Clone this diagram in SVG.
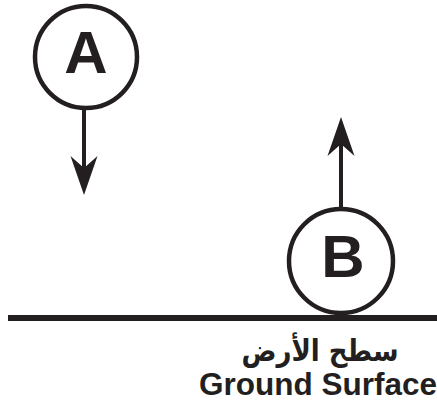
<svg xmlns="http://www.w3.org/2000/svg" width="437" height="404" viewBox="0 0 437 404">
  <style>
    .node { fill: none; stroke: #231f20; stroke-width: 4.5; }
    .lbl { font-family: "Liberation Sans", Arial, sans-serif; font-weight: bold; fill: #231f20; }
    .conn { stroke: #231f20; stroke-width: 4; fill: none; }
  </style>
  <defs>
    <marker id="head" markerUnits="userSpaceOnUse" orient="auto" markerWidth="60" markerHeight="40" viewBox="-30 -20 60 40" refX="0" refY="0" overflow="visible">
      <path d="M20,0 L-19,-13.5 L-7,0 L-19,13.5 Z" fill="#231f20"/>
    </marker>
  </defs>
  <rect width="437" height="404" fill="#ffffff"/>
  <g id="ground">
    <line x1="8" y1="318" x2="437" y2="318" stroke="#231f20" stroke-width="6"/>
    <text x="320" y="361" text-anchor="middle" font-family="'DejaVu Sans', sans-serif" font-weight="bold" font-size="30" fill="#231f20" direction="rtl" textLength="157" lengthAdjust="spacingAndGlyphs">سطح الأرض</text>
    <text class="lbl" x="199" y="395" font-size="31.5">Ground Surface</text>
  </g>
  <g id="nodeA">
    <circle class="node" cx="86" cy="57" r="51"/>
    <text class="lbl" x="86" y="73" font-size="60" text-anchor="middle">A</text>
  </g>
  <g id="nodeB">
    <circle class="node" cx="341" cy="261" r="52"/>
    <text class="lbl" x="343" y="277" font-size="60" text-anchor="middle">B</text>
  </g>
  <g id="connectors">
    <line class="conn" x1="84" y1="110" x2="84" y2="175" marker-end="url(#head)"/>
    <line class="conn" x1="341" y1="207" x2="341" y2="137" marker-end="url(#head)"/>
  </g>
</svg>
